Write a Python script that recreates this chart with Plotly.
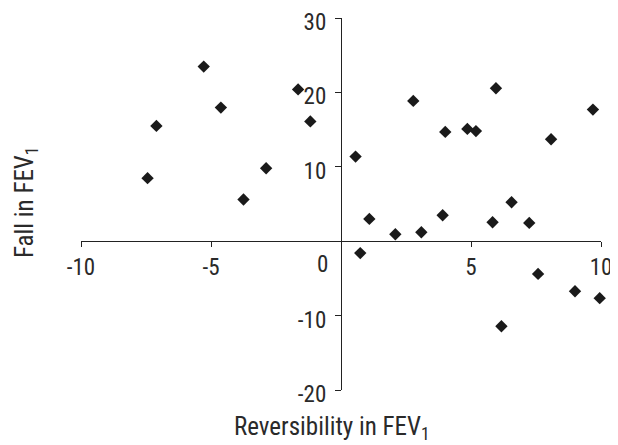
import plotly.graph_objects as go

# Data
reversibility = [-7.44, -7.1, -5.28, -4.62, -3.75, -2.88, -1.65, -1.18,
                 0.56, 0.74, 1.09, 2.09, 2.78, 3.09, 3.91, 4.01, 4.86, 5.19,
                 5.83, 5.96, 6.17, 6.56, 7.24, 7.58, 8.08, 9.0, 9.69, 9.95]
fall = [8.47, 15.5, 23.47, 17.96, 5.6, 9.8, 20.4, 16.1,
        11.37, -1.6, 3.0, 0.94, 18.86, 1.2, 3.49, 14.69, 15.09, 14.8,
        2.55, 20.56, -11.43, 5.24, 2.46, -4.4, 13.7, -6.72, 17.69, -7.66]

x_ticks = [-10, -5, 5, 10]
y_ticks = [-20, -10, 10, 20, 30]
x_title = "Reversibility in FEV<sub>1</sub>"
y_title = "Fall in FEV<sub>1</sub>"

FONT = "Roboto Condensed, Liberation Sans Narrow, Arial Narrow, Liberation Sans, sans-serif"
TXT = "#2a2a2a"

# page body has an 8px margin; the figure is sized/offset to compensate
OFF = 8
W, H = 618 - OFF, 445 - OFF
ML, MR, MT, MB = 81 - OFF, 17, 18 - OFF, 55
plot_w, plot_h = W - ML - MR, H - MT - MB


def px_to_paper(px, py):
    """Convert a window pixel position into paper coordinates."""
    return (px - OFF - ML) / plot_w, (H - MB - (py - OFF)) / plot_h


fig = go.Figure()
fig.add_trace(go.Scatter(
    x=reversibility, y=fall, mode="markers",
    marker=dict(symbol="diamond", size=9.5, color="#1a1a1a", line=dict(width=0)),
    showlegend=False, cliponaxis=False,
))

fig.update_layout(
    width=W, height=H,
    margin=dict(l=ML, r=MR, t=MT, b=MB),
    paper_bgcolor="white", plot_bgcolor="white",
    font=dict(family=FONT, color=TXT),
    xaxis=dict(
        range=[-10, 10], anchor="free", position=0.4,
        showline=True, linecolor="#222", linewidth=1.3,
        ticks="outside", ticklen=5, tickcolor="#222", tickwidth=1.3,
        tickvals=x_ticks, ticktext=[str(v) for v in x_ticks],
        tickfont=dict(size=23, family=FONT, color=TXT),
        ticklabeloverflow="allow",
        showgrid=False, zeroline=False, automargin=False,
    ),
    yaxis=dict(
        range=[-20, 30], anchor="free", position=0.5,
        showline=True, linecolor="#222", linewidth=1.3,
        ticks="outside", ticklen=6, tickcolor="#222", tickwidth=1.3,
        tickvals=y_ticks, ticktext=[str(v) for v in y_ticks],
        tickfont=dict(size=23, family=FONT, color=TXT),
        ticklabelstandoff=4, ticklabelshift=4, ticklabeloverflow="allow",
        showgrid=False, zeroline=False, automargin=False,
    ),
)

# "0" label at the origin, placed left of the vertical axis
fig.add_annotation(x=0, y=0, xref="x", yref="y", text="0", showarrow=False,
                   xanchor="right", yanchor="top", xshift=-11, yshift=-8,
                   font=dict(size=23, family=FONT, color=TXT))

tx, ty = px_to_paper(332, 428)
fig.add_annotation(x=tx, y=ty, xref="paper", yref="paper", text=x_title,
                   showarrow=False, xanchor="center", yanchor="middle",
                   font=dict(size=25, family=FONT, color=TXT))
ax_, ay_ = px_to_paper(26, 202)
fig.add_annotation(x=ax_, y=ay_, xref="paper", yref="paper", text=y_title,
                   textangle=-90, showarrow=False, xanchor="center", yanchor="middle",
                   font=dict(size=25, family=FONT, color=TXT))

fig.write_html("out.html")
